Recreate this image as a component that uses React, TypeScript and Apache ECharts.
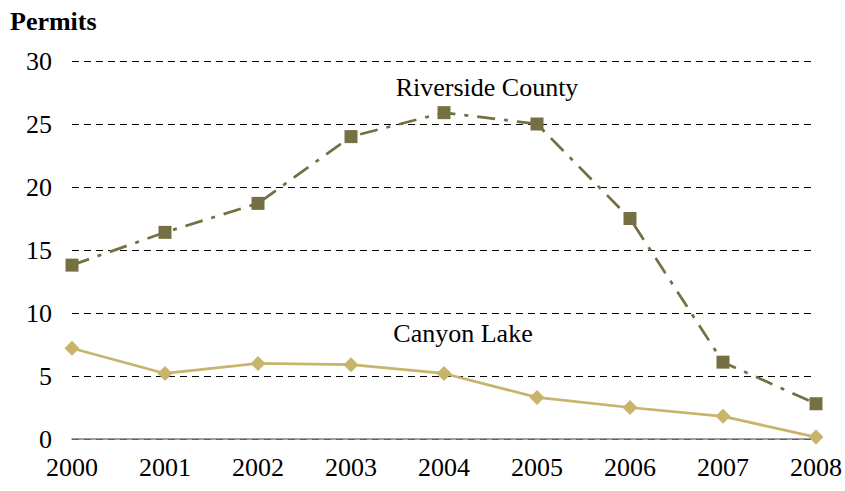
import React, { useEffect, useRef } from "react";
import * as echarts from "echarts";

const years = ["2000", "2001", "2002", "2003", "2004", "2005", "2006", "2007", "2008"];
const riverside = [13.8, 16.4, 18.7, 24.0, 25.9, 25.0, 17.5, 6.1, 2.8];
const canyonLake = [7.2, 5.2, 6.0, 5.9, 5.2, 3.3, 2.5, 1.8, 0.15];

const FONT = "'Liberation Serif', 'Times New Roman', serif";

export default function App() {
  const ref = useRef<HTMLDivElement>(null);
  useEffect(() => {
    if (!ref.current) return;
    const chart = echarts.init(ref.current, undefined, { renderer: "svg" });
    chart.setOption({
      animation: false,
      backgroundColor: "#ffffff",
      grid: { left: 72, right: 28, top: 61, bottom: 52 },
      graphic: [
        { type: "text", x: 10, y: 21, style: { text: "Permits", font: `bold 26px ${FONT}`, fill: "#000", verticalAlign: "middle" } },
        { type: "text", x: 487, y: 87, style: { text: "Riverside County", font: `26px ${FONT}`, fill: "#000", align: "center", verticalAlign: "middle" } },
        { type: "text", x: 463, y: 333, style: { text: "Canyon Lake", font: `26px ${FONT}`, fill: "#000", align: "center", verticalAlign: "middle" } },
      ],
      xAxis: {
        type: "category",
        data: years,
        boundaryGap: false,
        axisLine: { lineStyle: { color: "#808080", width: 1.5 } },
        axisTick: { show: false },
        axisLabel: { color: "#000", fontFamily: FONT, fontSize: 26, margin: 15 },
      },
      yAxis: {
        type: "value",
        min: 0,
        max: 30,
        interval: 5,
        axisLine: { show: false },
        axisTick: { show: false },
        axisLabel: { color: "#000", fontFamily: FONT, fontSize: 26, margin: 20 },
        splitLine: { lineStyle: { color: "#000", type: [7, 5], width: 1 } },
      },
      series: [
        {
          name: "Riverside County",
          type: "line",
          data: riverside,
          symbol: "rect",
          symbolSize: 13,
          itemStyle: { color: "#757044" },
          lineStyle: { color: "#757044", width: 2.75, type: [18, 9, 4, 9] },
          z: 3,
        },
        {
          name: "Canyon Lake",
          type: "line",
          data: canyonLake,
          symbol: "diamond",
          symbolSize: 15,
          itemStyle: { color: "#C9B46C" },
          lineStyle: { color: "#C9B46C", width: 2.75 },
          z: 4,
        },
      ],
    });
    return () => chart.dispose();
  }, []);
  return <div ref={ref} style={{ width: 845, height: 491, position: "absolute", left: 0, top: 0 }} />;
}
